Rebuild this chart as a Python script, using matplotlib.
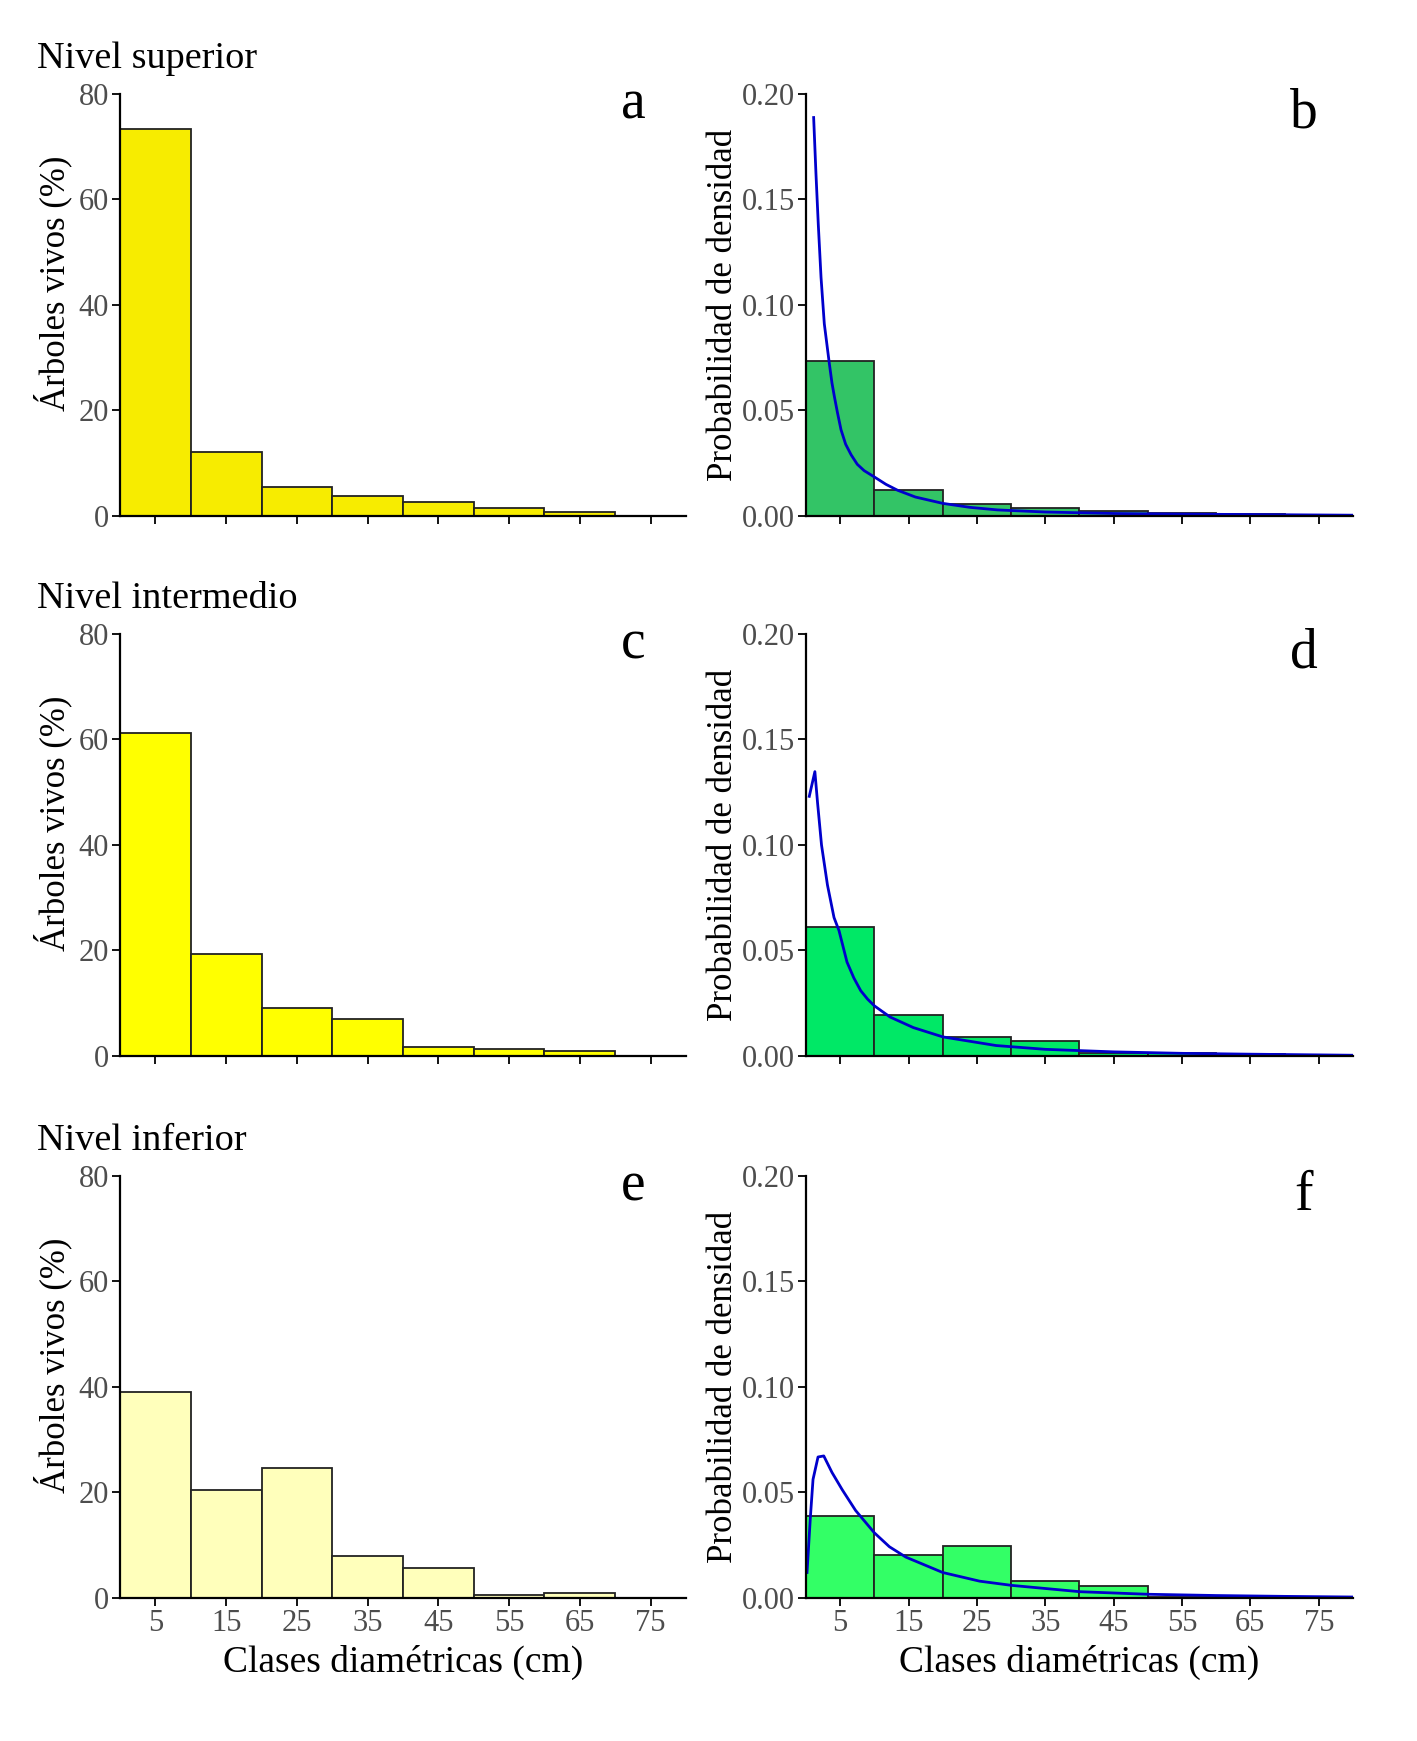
import numpy as np
import matplotlib
matplotlib.use("Agg")
import matplotlib.pyplot as plt

plt.rcParams['font.family'] = ['Liberation Serif', 'DejaVu Serif']

# Clases diametricas (limites de las barras, cm)
bordes = [0, 10, 20, 30, 40, 50, 60]
ancho = 10
ticks_x = [5, 15, 25, 35, 45, 55, 65, 75]

# Porcentaje de arboles vivos por nivel
pct_superior = [73.4, 12.2, 5.5, 3.8, 2.6, 1.6, 0.8]
pct_intermedio = [61.2, 19.4, 9.2, 7.1, 1.7, 1.25, 0.9]
pct_inferior = [39.0, 20.5, 24.6, 7.9, 5.6, 0.6, 0.9]

# Densidad (histograma normalizado)
dens_superior = [0.0734, 0.0122, 0.0055, 0.0038, 0.0026, 0.0016, 0.0008]
dens_intermedio = [0.0612, 0.0194, 0.0092, 0.0071, 0.0017, 0.00125, 0.0009]
dens_inferior = [0.0390, 0.0205, 0.0246, 0.0079, 0.0056, 0.0006, 0.0009]

# Curvas ajustadas
cx_sup = [1.12, 1.46, 1.8, 2.2, 2.68, 3.0, 3.41, 3.8, 4.15, 4.6, 5.12, 5.8, 6.6, 7.5, 8.5,
          10, 11.7, 13.4, 16, 20, 24, 28, 35, 45, 55, 65, 80]
cy_sup = [0.1887, 0.162, 0.138, 0.113, 0.091, 0.0828, 0.0723, 0.063, 0.0566, 0.049, 0.0409, 0.034, 0.029, 0.0245, 0.0215,
          0.0185, 0.015, 0.0122, 0.009, 0.006, 0.0041, 0.0029, 0.0019, 0.0012, 0.0009, 0.0007, 0.0004]
cx_int = [0.48, 1.3, 1.69, 2.27, 3.14, 4.1, 4.83, 6.0, 7.0, 8.0, 9.0, 10, 12.3, 15.7, 20,
          27.8, 35, 45, 55, 65, 80]
cy_int = [0.123, 0.1347, 0.120, 0.100, 0.081, 0.0656, 0.0594, 0.0445, 0.037, 0.031, 0.027, 0.0238, 0.0185, 0.0135, 0.0091,
          0.0050, 0.0032, 0.0020, 0.0013, 0.0009, 0.0004]
cx_inf = [0.15, 0.64, 1.03, 1.76, 2.6, 3.8, 5.3, 7.25, 10, 12.2, 14.6, 20, 25.4, 30.1, 40.1, 50, 60, 70, 80]
cy_inf = [0.0121, 0.0382, 0.0562, 0.0668, 0.0673, 0.0595, 0.0513, 0.0415, 0.0309, 0.0243, 0.0194, 0.0121, 0.0080, 0.0060, 0.0030, 0.0018, 0.0012, 0.0008, 0.0005]

niveles = ["Nivel superior", "Nivel intermedio", "Nivel inferior"]
letras = [("a", "b"), ("c", "d"), ("e", "f")]
pcts = [pct_superior, pct_intermedio, pct_inferior]
denss = [dens_superior, dens_intermedio, dens_inferior]
curvas = [(cx_sup, cy_sup), (cx_int, cy_int), (cx_inf, cy_inf)]
amarillos = ["#F7EC00", "#FFFF00", "#FFFFBB"]
verdes = ["#33C466", "#00E866", "#33FF66"]

fig = plt.figure(figsize=(14.17, 17.41), dpi=100)

fondos = [0.7036, 0.3934, 0.0821]
alto = 0.2426


def estilo(ax):
    for s in ["top", "right"]:
        ax.spines[s].set_visible(False)
    for s in ["left", "bottom"]:
        ax.spines[s].set_linewidth(1.6)
    ax.tick_params(axis="both", direction="out", length=6, width=1.3, pad=2,
                   labelsize=22, labelcolor="#4D4D4D", color="black")
    ax.set_xlim(0, 80)
    ax.set_xticks(ticks_x)


for i in range(3):
    # histograma de porcentajes
    ax = fig.add_axes([0.0847, fondos[i], 0.3994, alto])
    ax.bar(bordes, pcts[i], width=ancho, align="edge", color=amarillos[i],
           edgecolor="#222222", linewidth=1.3)
    ax.set_ylim(0, 80)
    ax.set_yticks([0, 20, 40, 60, 80])
    estilo(ax)
    ax.set_ylabel("Árboles vivos (%)", fontsize=25)
    ax.yaxis.set_label_coords(-0.085, 0.552)
    ax.text(0.907, 0.975, letras[i][0], transform=ax.transAxes, fontsize=40,
            ha="center", va="center")
    ax.text(-0.146, 1.083, niveles[i], transform=ax.transAxes, fontsize=27.5,
            ha="left", va="center")

    # histograma de densidad con curva
    ax2 = fig.add_axes([0.5688, fondos[i], 0.386, alto])
    ax2.bar(bordes, denss[i], width=ancho, align="edge", color=verdes[i],
            edgecolor="#222222", linewidth=1.3)
    ax2.plot(curvas[i][0], curvas[i][1], color="#0000CC", linewidth=2)
    ax2.set_ylim(0, 0.20)
    ax2.set_yticks([0, 0.05, 0.10, 0.15, 0.20])
    ax2.set_yticklabels(["0.00", "0.05", "0.10", "0.15", "0.20"])
    estilo(ax2)
    ax2.set_ylabel("Probabilidad de densidad", fontsize=25, labelpad=1)
    ax2.text(0.91, 0.953, letras[i][1], transform=ax2.transAxes, fontsize=40,
             ha="center", va="center")

    if i == 2:
        ax.set_xlabel("Clases diamétricas (cm)", fontsize=27, labelpad=5)
        ax2.set_xlabel("Clases diamétricas (cm)", fontsize=27, labelpad=5)
    else:
        ax.set_xticklabels([])
        ax2.set_xticklabels([])

fig.savefig("out.png", dpi=100)
